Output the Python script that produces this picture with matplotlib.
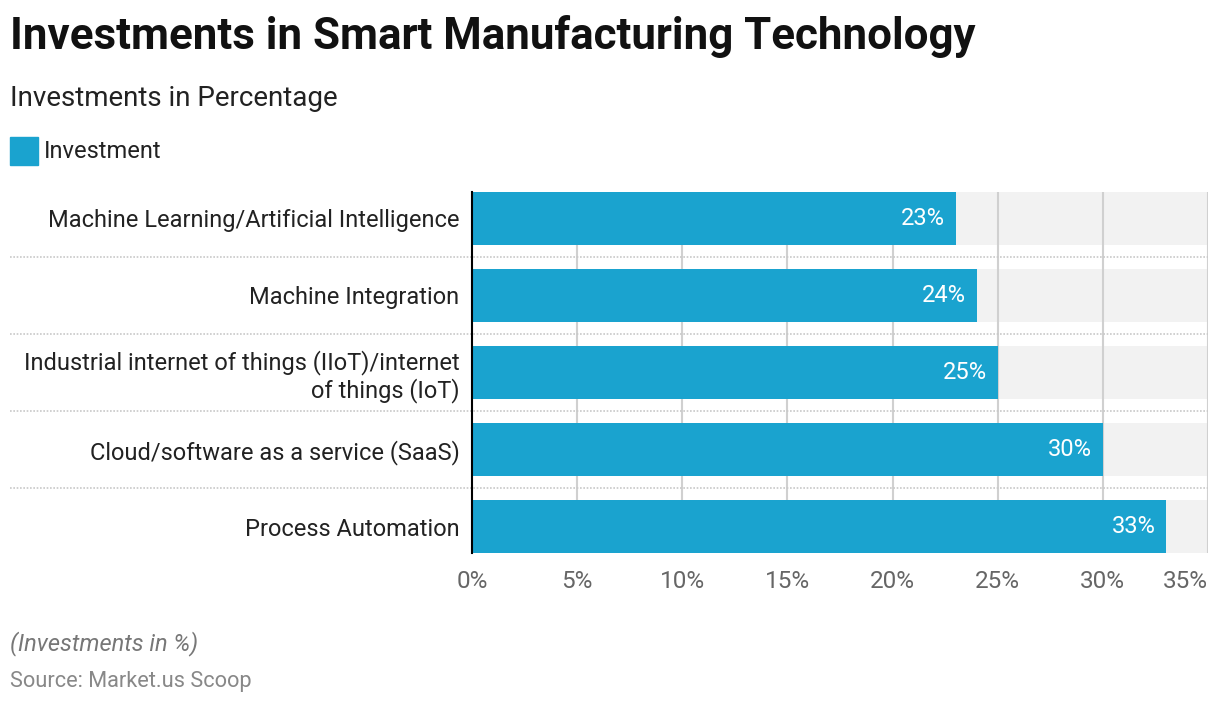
import matplotlib.pyplot as plt

plt.rcParams["font.family"] = ["Roboto", "DejaVu Sans"]

categories = [
    "Machine Learning/Artificial Intelligence",
    "Machine Integration",
    "Industrial internet of things (IIoT)/internet\nof things (IoT)",
    "Cloud/software as a service (SaaS)",
    "Process Automation",
]
values = [23, 24, 25, 30, 33]
ticks = [0, 5, 10, 15, 20, 25, 30, 35]

BAR = "#1aa3cf"
W, H = 1220, 704

fig = plt.figure(figsize=(W / 100, H / 100), dpi=100)
left, right = 472 / W, 1208 / W
top, bottom = 192 / H, 553 / H
ax = fig.add_axes([left, 1 - bottom, right - left, bottom - top])

xmax = 35
ypos = list(range(len(categories)))
bh = 0.687
# grey track behind each bar, then grid, then the bars themselves
ax.barh(ypos, [xmax] * len(ypos), height=bh, color="#f2f2f2", zorder=0)
for t in ticks[1:]:
    ax.axvline(t, color="#d0d0d0", linewidth=1.5, zorder=1)
ax.barh(ypos, values, height=bh, color=BAR, zorder=2)
for y, v in zip(ypos, values):
    ax.text(v - 0.5, y, f"{v}%", ha="right", va="center", color="white",
            fontsize=17, zorder=3)

ax.set_xlim(0, xmax)
ax.set_ylim(len(categories) - 1 + bh / 2, -bh / 2)
ax.set_xticks(ticks)
ax.set_xticklabels([f"{t}%" for t in ticks])
ax.get_xticklabels()[-1].set_horizontalalignment("right")
ax.set_yticks(ypos)
ax.set_yticklabels(categories, fontsize=17, color="#222222", linespacing=1.15)
ax.tick_params(axis="x", length=0, pad=12, labelsize=17.5, labelcolor="#666666")
ax.tick_params(axis="y", length=0, pad=9)
for s in ["top", "right", "bottom"]:
    ax.spines[s].set_visible(False)
ax.spines["left"].set_linewidth(1.5)
ax.spines["left"].set_zorder(4)

# dotted separators run from the left margin to the right edge
x0 = (10 / W - left) / (right - left)
for y in [0.5, 1.5, 2.5, 3.5]:
    ax.axhline(y, xmin=x0, xmax=1, color="#c8c8c8", linestyle=(0, (1, 1)),
               linewidth=1.2, clip_on=False, zorder=1)

fig.text(10 / W, 1 - 36 / H, "Investments in Smart Manufacturing Technology",
         fontsize=31.6, fontweight="bold", va="center", color="#111111")
fig.text(10 / W, 1 - 98 / H, "Investments in Percentage", fontsize=20,
         va="center", color="#222222")
fig.patches.append(plt.Rectangle((10 / W, 1 - 165 / H), 28 / W, 28 / H,
                                 transform=fig.transFigure, color=BAR))
fig.text(44 / W, 1 - 151 / H, "Investment", fontsize=17, va="center",
         color="#222222")
fig.text(10 / W, 1 - 644 / H, "(Investments in %)", fontsize=17,
         style="italic", va="center", color="#777777")
fig.text(10 / W, 1 - 681 / H, "Source: Market.us Scoop", fontsize=15.7,
         va="center", color="#888888")

fig.savefig("out.png", dpi=100)
